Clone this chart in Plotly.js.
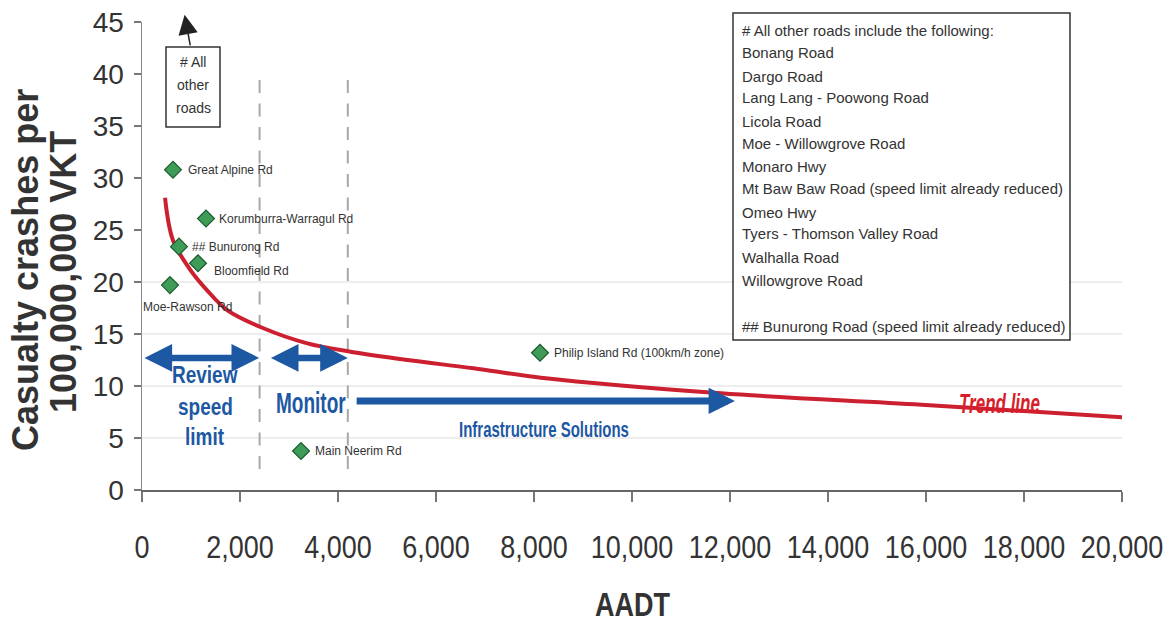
<!DOCTYPE html>
<html>
<head>
<meta charset="utf-8">
<script src="https://cdn.plot.ly/plotly-3.0.1.min.js"></script>
<style>
  html, body { margin: 0; padding: 0; background: #ffffff; }
  #chart { width: 1174px; height: 623px; }
</style>
</head>
<body>
<div id="chart"></div>
<script>
// ---------- data ----------
var roads = ["Great Alpine Rd", "Korumburra-Warragul Rd", "## Bunurong Rd", "Bloomfield Rd",
             "Moe-Rawson Rd", "Philip Island Rd (100km/h zone)", "Main Neerim Rd"];
var aadt = [633, 1306, 755, 1143, 571, 8122, 3245];
var crashRate = [30.8, 26.1, 23.4, 21.8, 19.7, 13.2, 3.75];

var trendAadt = [470, 633, 982, 1329, 1738, 2454, 3374, 4254, 5419, 6769, 8139, 11820, 15910, 20000];
var trendRate = [28.1, 24.0, 21.2, 19.2, 17.3, 15.6, 14.1, 13.3, 12.5, 11.7, 10.8, 9.3, 8.2, 7.0];

var xTickVals = [0, 2000, 4000, 6000, 8000, 10000, 12000, 14000, 16000, 18000, 20000];
var xTickText = ["0", "2,000", "4,000", "6,000", "8,000", "10,000", "12,000", "14,000", "16,000", "18,000", "20,000"];
var yTickVals = [0, 5, 10, 15, 20, 25, 30, 35, 40, 45];

var zoneBounds = [2400, 4200];
var gridLevels = [5, 10, 15, 20];

var otherRoadsLines = ["# All", "other", "roads"];
var reviewLines = ["Review", "speed", "limit"];
var noteLines = ["# All other roads include the following:", "Bonang Road", "Dargo Road",
  "Lang Lang - Poowong Road", "Licola Road", "Moe - Willowgrove Road", "Monaro Hwy",
  "Mt Baw Baw Road (speed limit already reduced)", "Omeo Hwy", "Tyers - Thomson Valley Road",
  "Walhalla Road", "Willowgrove Road", "", "## Bunurong Road (speed limit already reduced)"];

// ---------- styling ----------
var FONT = "Liberation Sans, Arial, sans-serif";
var BLUE = "#1d58a3";
var RED = "#cc2030";
var TXT = "#333333";

// label offsets (px) for road labels
var labelShift = [[13, 0], [11, 0], [11, 0], [14, -8], [-29, -22], [12, 0], [12, 0]];

var traces = [
  {
    x: trendAadt, y: trendRate, type: "scatter", mode: "lines",
    line: { color: RED, width: 4, shape: "spline", smoothing: 1 },
    hoverinfo: "skip", showlegend: false
  },
  {
    x: aadt, y: crashRate, type: "scatter", mode: "markers",
    marker: { symbol: "diamond", size: 13, color: "#3f9b58", line: { color: "#1b5a2e", width: 1.2 } },
    text: roads, hoverinfo: "text", showlegend: false
  }
];

var shapes = [];
gridLevels.forEach(function (g) {
  shapes.push({ type: "line", xref: "x", yref: "y", x0: 0, x1: 20000, y0: g, y1: g,
    line: { color: "#dcdcdc", width: 1 }, layer: "below" });
});
zoneBounds.forEach(function (b) {
  shapes.push({ type: "line", xref: "x", yref: "y", x0: b, x1: b, y0: 2.02, y1: 39.42,
    line: { color: "#a8a8a8", width: 2, dash: "13px,10.5px" }, layer: "below" });
});
// note box
shapes.push({ type: "rect", xref: "paper", yref: "paper",
  x0: (733 - 142) / 980, x1: (1070 - 142) / 980, y0: (490 - 340) / 468, y1: (490 - 13) / 468,
  fillcolor: "#ffffff", line: { color: "#333333", width: 1.5 }, layer: "above" });
// "# All other roads" box
shapes.push({ type: "rect", xref: "x", yref: "y", x0: 490, x1: 1592, y0: 34.9, y1: 42.6,
  fillcolor: "#ffffff", line: { color: "#333333", width: 1.5 }, layer: "above" });

var annotations = [];
var stretch = {}; // annotation index -> vertical stretch factor
// road labels
roads.forEach(function (r, i) {
  annotations.push({ x: aadt[i], y: crashRate[i], xref: "x", yref: "y", text: r, showarrow: false,
    xanchor: "left", yanchor: "middle", xshift: labelShift[i][0], yshift: labelShift[i][1],
    font: { family: FONT, size: 12, color: TXT } });
});
// note lines
var noteY = [30, 53, 76, 98, 121, 143, 166, 189, 212, 234, 257, 280, 303, 326];
noteLines.forEach(function (t, i) {
  if (!t) return;
  annotations.push({ xref: "paper", yref: "paper", x: (740 - 142) / 980, y: (490 - noteY[i]) / 468,
    text: t, showarrow: false, xanchor: "left", yanchor: "middle",
    font: { family: FONT, size: 15, color: TXT } });
});
// "# All other roads" text
var otherY = [41.15, 38.9, 36.75];
otherRoadsLines.forEach(function (t, i) {
  annotations.push({ xref: "x", yref: "y", x: 1043, y: otherY[i], text: t, showarrow: false,
    xanchor: "center", yanchor: "middle", font: { family: FONT, size: 14, color: TXT } });
});
annotations.push({ xref: "x", yref: "y", axref: "x", ayref: "y", x: 870, y: 45.7, ax: 990, ay: 42.6,
  text: "", showarrow: true, arrowhead: 2, arrowsize: 2.6, arrowwidth: 1.5, arrowcolor: "#222222", standoff: 0 });
// zone arrows
annotations.push({ xref: "x", yref: "y", axref: "x", ayref: "y", x: 2390, y: 12.7, ax: 20, ay: 12.7,
  text: "", showarrow: true, arrowside: "end+start", arrowhead: 2, startarrowhead: 2,
  arrowsize: 0.85, startarrowsize: 0.85, arrowwidth: 6.5, arrowcolor: BLUE, standoff: 0, startstandoff: 0 });
annotations.push({ xref: "x", yref: "y", axref: "x", ayref: "y", x: 4200, y: 12.7, ax: 2600, ay: 12.7,
  text: "", showarrow: true, arrowside: "end+start", arrowhead: 2, startarrowhead: 2,
  arrowsize: 0.85, startarrowsize: 0.85, arrowwidth: 6.5, arrowcolor: BLUE, standoff: 0, startstandoff: 0 });
annotations.push({ xref: "x", yref: "y", axref: "x", ayref: "y", x: 12100, y: 8.56, ax: 4350, ay: 8.56,
  text: "", showarrow: true, arrowhead: 2, arrowsize: 0.75, arrowwidth: 7, arrowcolor: BLUE, standoff: 0 });
// zone texts
var reviewY = [11.1, 8.05, 5.1];
reviewLines.forEach(function (t, i) {
  stretch[annotations.length] = 1.3;
  annotations.push({ xref: "x", yref: "y", x: 1290, y: reviewY[i], text: t, showarrow: false,
    font: { family: FONT, size: 19, color: BLUE, weight: "bold" } });
});
stretch[annotations.length] = 1.6;
annotations.push({ xref: "x", yref: "y", x: 3440, y: 8.45, text: "Monitor", showarrow: false,
  font: { family: FONT, size: 19, color: BLUE, weight: "bold" } });
stretch[annotations.length] = 1.5;
annotations.push({ xref: "x", yref: "y", x: 8200, y: 5.95, text: "Infrastructure Solutions", showarrow: false,
  font: { family: FONT, size: 15, color: BLUE, weight: "bold" } });
stretch[annotations.length] = 1.6;
annotations.push({ xref: "x", yref: "y", x: 17490, y: 8.2, text: "Trend line", showarrow: false,
  font: { family: FONT, size: 17, color: "#d81e2a", weight: "bold", style: "italic" } });
// axis titles
annotations.push({ xref: "paper", yref: "paper", x: (25 - 142) / 980, y: (490 - 270) / 468,
  text: "Casualty crashes per", textangle: -90, showarrow: false, xanchor: "center", yanchor: "middle",
  font: { family: FONT, size: 36, color: TXT, weight: "bold" } });
annotations.push({ xref: "paper", yref: "paper", x: (63 - 142) / 980, y: (490 - 272) / 468,
  text: "100,000,000 VKT", textangle: -90, showarrow: false, xanchor: "center", yanchor: "middle",
  font: { family: FONT, size: 36, color: TXT, weight: "bold" } });
stretch[annotations.length] = 1.25;
annotations.push({ xref: "paper", yref: "paper", x: 0.5, y: (490 - 605) / 468,
  text: "AADT", showarrow: false, xanchor: "center", yanchor: "middle",
  font: { family: FONT, size: 27, color: TXT, weight: "bold" } });

var layout = {
  width: 1174, height: 623,
  margin: { l: 142, r: 52, t: 22, b: 133 },
  paper_bgcolor: "#ffffff", plot_bgcolor: "#ffffff",
  showlegend: false,
  xaxis: {
    range: [0, 20000], tickvals: xTickVals, ticktext: xTickText,
    showgrid: false, zeroline: false, showline: true, linecolor: "#666666", linewidth: 2,
    ticks: "outside", ticklen: 10, tickcolor: "#777777", tickwidth: 1.5,
    ticklabelstandoff: 22,
    tickfont: { family: FONT, size: 27, color: TXT }
  },
  yaxis: {
    range: [0, 45], tickvals: yTickVals,
    showgrid: false, zeroline: false, showline: true, linecolor: "#888888", linewidth: 1.5,
    ticks: "outside", ticklen: 7, tickcolor: "#777777", tickwidth: 1.5,
    ticklabelstandoff: 4,
    tickfont: { family: FONT, size: 28, color: TXT }
  },
  shapes: shapes,
  annotations: annotations
};

function stretchText(t, s) {
  t.removeAttribute('transform');
  var bb = t.getBBox();
  var cx = bb.x + bb.width / 2, cy = bb.y + bb.height / 2;
  t.setAttribute('transform', 'translate(' + cx + ',' + cy + ') scale(1,' + s + ') translate(' + (-cx) + ',' + (-cy) + ')');
}

// vertically stretch condensed-looking labels (the reference text is tall and narrow)
function applyStretch() {
  Object.keys(stretch).forEach(function (k) {
    var g = document.querySelector('#chart .annotation[data-index="' + k + '"]');
    if (!g) return;
    var t = g.querySelector('text');
    if (t) stretchText(t, stretch[k]);
  });
  document.querySelectorAll('#chart .xtick text').forEach(function (t) {
    var tr = t.getAttribute('transform') || '';
    var bb = t.getBBox();
    var cx = bb.x + bb.width / 2, cy = bb.y + bb.height / 2;
    t.setAttribute('transform', tr + ' translate(' + cx + ',' + cy + ') scale(1,1.18) translate(' + (-cx) + ',' + (-cy) + ')');
  });
}

Plotly.newPlot("chart", traces, layout, { displayModeBar: false, staticPlot: true }).then(applyStretch);
</script>
</body>
</html>
